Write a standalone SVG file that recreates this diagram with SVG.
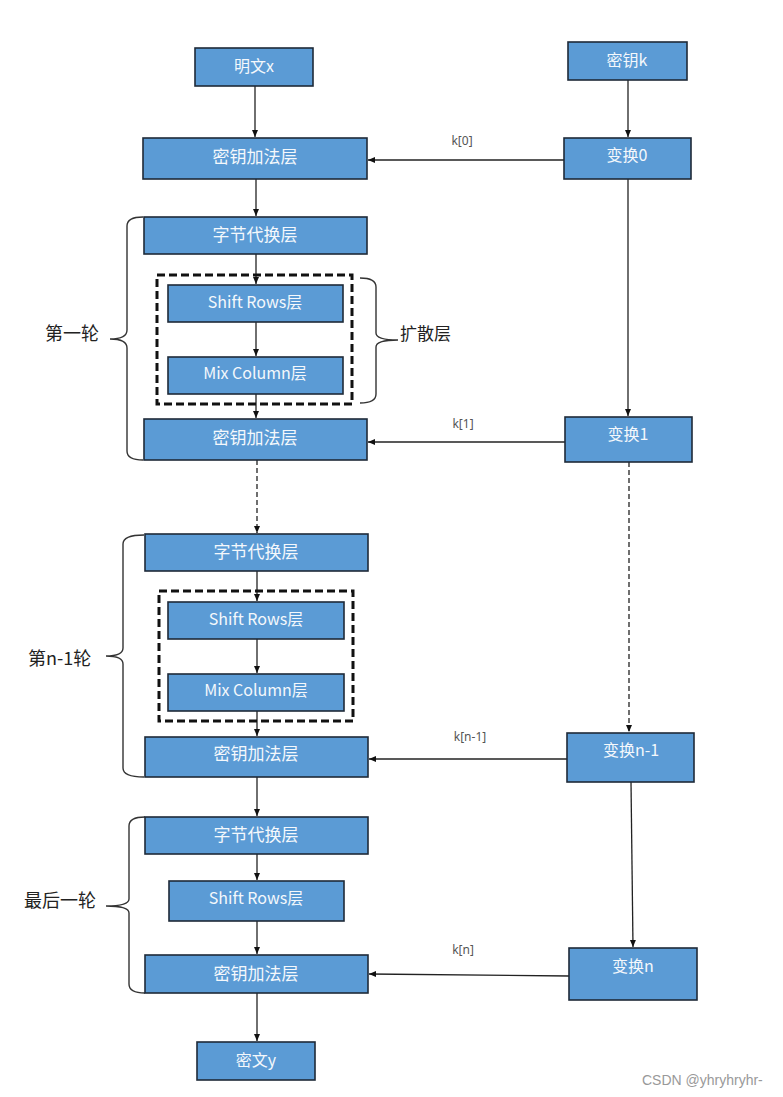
<svg xmlns="http://www.w3.org/2000/svg" width="783" height="1097" viewBox="0 0 783 1097">
<style>
.box{fill:#5b9bd5;stroke:#1e2a38;stroke-width:1.6}
.bt{font-family:"Noto Sans CJK SC","Noto Sans",sans-serif;font-size:16px;fill:#f4f8fc;text-anchor:middle;dominant-baseline:central}
.cn{font-size:17px}
.ln{fill:none;stroke:#222;stroke-width:1.3}
.dl{fill:none;stroke:#222;stroke-width:1.3;stroke-dasharray:5,3}
.db{fill:none;stroke:#111;stroke-width:3;stroke-dasharray:8,4}
.br{fill:none;stroke:#333;stroke-width:1.4}
.lab{font-family:"Noto Sans CJK SC","Noto Sans",sans-serif;font-size:18px;fill:#222;dominant-baseline:central}
.kl{font-family:"Noto Sans","Noto Sans CJK SC",sans-serif;font-size:12px;fill:#555;text-anchor:middle;dominant-baseline:central}
.wm{font-family:"Liberation Sans",Arial,sans-serif;font-size:14px;fill:#999;dominant-baseline:central}
</style>
<defs>
<marker id="ah" markerUnits="userSpaceOnUse" markerWidth="8" markerHeight="8" refX="7" refY="4" orient="auto">
<path d="M0,1 L7,4 L0,7 Z" fill="#111"/>
</marker>
</defs>
<rect width="783" height="1097" fill="#ffffff"/>

<g id="connectors">
<line class="ln" x1="255" y1="86" x2="255" y2="137" marker-end="url(#ah)"/>
<line class="ln" x1="628" y1="80" x2="628" y2="137" marker-end="url(#ah)"/>
<line class="ln" x1="564" y1="160" x2="368" y2="160" marker-end="url(#ah)"/>
<line class="ln" x1="256" y1="179" x2="256" y2="216" marker-end="url(#ah)"/>
<line class="ln" x1="256" y1="254" x2="256" y2="284" marker-end="url(#ah)"/>
<line class="ln" x1="256" y1="322" x2="256" y2="356" marker-end="url(#ah)"/>
<line class="ln" x1="256" y1="394" x2="256" y2="418" marker-end="url(#ah)"/>
<line class="ln" x1="628" y1="179" x2="628" y2="416" marker-end="url(#ah)"/>
<line class="ln" x1="565" y1="442" x2="368" y2="442" marker-end="url(#ah)"/>
<line class="dl" x1="257" y1="460" x2="257" y2="533" marker-end="url(#ah)"/>
<line class="ln" x1="257" y1="571" x2="257" y2="601" marker-end="url(#ah)"/>
<line class="ln" x1="257" y1="639" x2="257" y2="673" marker-end="url(#ah)"/>
<line class="ln" x1="257" y1="711" x2="257" y2="736" marker-end="url(#ah)"/>
<line class="dl" x1="629" y1="462" x2="629" y2="732" marker-end="url(#ah)"/>
<line class="ln" x1="567" y1="759" x2="369" y2="759" marker-end="url(#ah)"/>
<line class="ln" x1="257" y1="777" x2="257" y2="816" marker-end="url(#ah)"/>
<line class="ln" x1="257" y1="854" x2="257" y2="880" marker-end="url(#ah)"/>
<line class="ln" x1="257" y1="921" x2="257" y2="954" marker-end="url(#ah)"/>
<line class="ln" x1="631" y1="782" x2="633" y2="947" marker-end="url(#ah)"/>
<line class="ln" x1="569" y1="976" x2="369" y2="974" marker-end="url(#ah)"/>
<line class="ln" x1="257" y1="993" x2="257" y2="1041" marker-end="url(#ah)"/>
</g>

<g id="labels">
<text class="kl" x="462" y="140">k[0]</text>
<text class="kl" x="463" y="423">k[1]</text>
<text class="kl" x="470" y="736">k[n-1]</text>
<text class="kl" x="463" y="949">k[n]</text>
</g>

<g id="brace1">
<path class="br" d="M143,217 Q127,217 127,226 L127,330 Q127,339 110,339 Q127,339 127,348 L127,451 Q127,460 143,460"/>
<text class="lab" x="45" y="332">第一轮</text>
</g>
<g id="brace-diffuse">
<path class="br" d="M360,278 Q376,278 376,287 L376,333 Q376,340 398,340 Q376,340 376,347 L376,394 Q376,403 360,403"/>
<text class="lab" x="400" y="332" style="font-size:17px">扩散层</text>
</g>
<g id="brace2">
<path class="br" d="M144,535 Q123,535 123,544 L123,648 Q123,656 106,656 Q123,656 123,664 L123,768 Q123,777 144,777"/>
<text class="lab" x="28" y="657">第n-1轮</text>
</g>
<g id="brace3">
<path class="br" d="M145,817 Q129,817 129,826 L129,899 Q129,906 106,906 Q129,906 129,913 L129,984 Q129,993 145,993"/>
<text class="lab" x="24" y="899">最后一轮</text>
</g>

<g id="dashbox1"><rect class="db" x="157" y="275" width="195" height="129"/></g>
<g id="dashbox2"><rect class="db" x="159" y="591" width="194" height="130"/></g>

<g id="plain"><rect class="box" x="195" y="48" width="118" height="38"/><text class="bt" x="254" y="65">明文x</text></g>
<g id="key"><rect class="box" x="568" y="42" width="119" height="38"/><text class="bt" x="627" y="59">密钥k</text></g>
<g id="add0"><rect class="box" x="143" y="138" width="224" height="41"/><text class="bt cn" x="255" y="155">密钥加法层</text></g>
<g id="t0"><rect class="box" x="564" y="138" width="127" height="41"/><text class="bt" x="627" y="154">变换0</text></g>

<g id="sub1"><rect class="box" x="144" y="217" width="223" height="37"/><text class="bt cn" x="255" y="233">字节代换层</text></g>
<g id="sr1"><rect class="box" x="168" y="285" width="175" height="37"/><text class="bt" x="255" y="301">Shift Rows层</text></g>
<g id="mc1"><rect class="box" x="168" y="357" width="175" height="37"/><text class="bt" x="255" y="372">Mix Column层</text></g>
<g id="add1"><rect class="box" x="144" y="419" width="223" height="41"/><text class="bt cn" x="255" y="436">密钥加法层</text></g>
<g id="t1"><rect class="box" x="565" y="417" width="127" height="45"/><text class="bt" x="628" y="433">变换1</text></g>

<g id="sub2"><rect class="box" x="145" y="534" width="223" height="37"/><text class="bt cn" x="256" y="550">字节代换层</text></g>
<g id="sr2"><rect class="box" x="168" y="602" width="176" height="37"/><text class="bt" x="256" y="618">Shift Rows层</text></g>
<g id="mc2"><rect class="box" x="168" y="674" width="176" height="37"/><text class="bt" x="256" y="689">Mix Column层</text></g>
<g id="add2"><rect class="box" x="145" y="737" width="223" height="40"/><text class="bt cn" x="256" y="752">密钥加法层</text></g>
<g id="tn1"><rect class="box" x="567" y="733" width="127" height="49"/><text class="bt" x="631" y="749">变换n-1</text></g>

<g id="sub3"><rect class="box" x="145" y="817" width="223" height="37"/><text class="bt cn" x="256" y="833">字节代换层</text></g>
<g id="sr3"><rect class="box" x="169" y="881" width="175" height="40"/><text class="bt" x="256" y="897">Shift Rows层</text></g>
<g id="add3"><rect class="box" x="145" y="955" width="223" height="38"/><text class="bt cn" x="256" y="972">密钥加法层</text></g>
<g id="tn"><rect class="box" x="569" y="948" width="128" height="52"/><text class="bt" x="633" y="965">变换n</text></g>

<g id="cipher"><rect class="box" x="197" y="1042" width="118" height="38"/><text class="bt" x="256" y="1059">密文y</text></g>

<text class="wm" x="642" y="1080">CSDN @yhryhryhr-</text>
</svg>
